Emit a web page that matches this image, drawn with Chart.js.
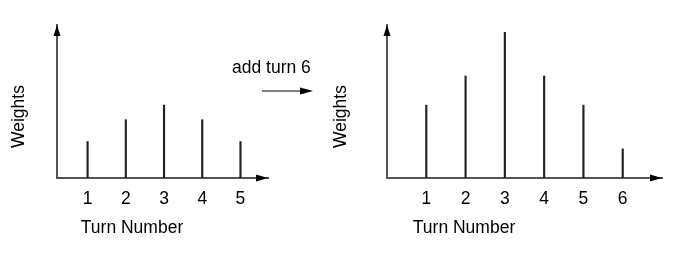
<!DOCTYPE html>
<html>
<head>
<meta charset="utf-8">
<script src="https://cdn.jsdelivr.net/npm/chart.js@4.4.1/dist/chart.umd.min.js"></script>
<style>
  html, body { margin: 0; padding: 0; background: #fff; }
  body { width: 685px; height: 262px; position: relative; overflow: hidden; font-family: "Liberation Sans", Arial, sans-serif; }
  .box { position: absolute; top: 0; height: 262px; }
  #leftBox { left: 0; width: 300px; }
  #rightBox { left: 330px; width: 355px; }
  #addTurn { position: absolute; left: 232px; top: 57px; font-size: 17.5px; color: #000; white-space: nowrap; }
  #midArrow { position: absolute; left: 260px; top: 84px; }
</style>
</head>
<body>
<div class="box" id="leftBox"><canvas id="leftChart"></canvas></div>
<div class="box" id="rightBox"><canvas id="rightChart"></canvas></div>
<div id="addTurn">add turn 6</div>
<svg id="midArrow" width="56" height="14"><line x1="2" y1="7" x2="42" y2="7" stroke="#000" stroke-width="1.2"/><polygon points="40,3.5 53,7 40,10.5" fill="#000"/></svg>
<script>
// data
const turnsBefore = [1, 2, 3, 4, 5];
const weightsBefore = [2.5, 4, 5, 4, 2.5];
const turnsAfter = [1, 2, 3, 4, 5, 6];
const weightsAfter = [5, 7, 10, 7, 5, 2];
const weightMax = 10.5;
const xTitle = 'Turn Number';
const yTitle = 'Weights';

const FONT = '"Liberation Sans", Arial, sans-serif';

// arrow heads on the axes + the two axis titles
const axisArrows = {
  id: 'axisArrows',
  afterDraw(chart, args, opts) {
    const ctx = chart.ctx;
    const a = chart.chartArea;
    ctx.save();
    ctx.fillStyle = '#000';
    // up arrow
    ctx.beginPath();
    ctx.moveTo(a.left, a.top);
    ctx.lineTo(a.left - 3.5, a.top + 11);
    ctx.lineTo(a.left + 3.5, a.top + 11);
    ctx.closePath();
    ctx.fill();
    // right arrow
    ctx.beginPath();
    ctx.moveTo(a.right, a.bottom);
    ctx.lineTo(a.right - 12, a.bottom - 3.5);
    ctx.lineTo(a.right - 12, a.bottom + 3.5);
    ctx.closePath();
    ctx.fill();

    ctx.font = '17.5px ' + FONT;
    ctx.textAlign = 'center';
    ctx.textBaseline = 'middle';
    ctx.fillText(xTitle, opts.xTitleX, opts.xTitleY);
    ctx.translate(opts.yTitleX, opts.yTitleY);
    ctx.rotate(-Math.PI / 2);
    ctx.fillText(yTitle, 0, 0);
    ctx.restore();
  }
};

function makeChart(id, turns, weights, xMin, xMax, padRight, titles) {
  return new Chart(document.getElementById(id), {
    type: 'bar',
    data: {
      datasets: [{
        data: turns.map((t, i) => ({ x: t, y: weights[i] })),
        backgroundColor: '#222',
        barThickness: 1.5
      }]
    },
    options: {
      responsive: true,
      maintainAspectRatio: false,
      animation: false,
      layout: { padding: { top: 25, right: padRight, left: 0, bottom: 0 } },
      plugins: {
        legend: { display: false },
        tooltip: { enabled: false },
        axisArrows: titles
      },
      scales: {
        x: {
          type: 'linear',
          min: xMin,
          max: xMax,
          offset: false,
          grid: { display: false, drawTicks: false, offset: false },
          border: { display: true, color: '#555', width: 2 },
          afterBuildTicks: (scale) => { scale.ticks = turns.map(v => ({ value: v })); },
          ticks: {
            autoSkip: false,
            maxRotation: 0,
            padding: 11,
            color: '#000',
            font: { family: FONT, size: 17.5 }
          },
          afterFit: (scale) => { scale.height = 84; }
        },
        y: {
          min: 0,
          max: weightMax,
          grid: { display: false, drawTicks: false },
          border: { display: true, color: '#555', width: 2 },
          ticks: { display: false },
          afterFit: (scale) => { scale.width = 57; }
        }
      }
    },
    plugins: [axisArrows]
  });
}

makeChart('leftChart', turnsBefore, weightsBefore, 0.2, 5.72, 32,
  { xTitleX: 132, xTitleY: 228, yTitleX: 19.5, yTitleY: 116.5 });
makeChart('rightChart', turnsAfter, weightsAfter, 0, 7, 23,
  { xTitleX: 134, xTitleY: 228, yTitleX: 10.7, yTitleY: 116.5 });
</script>
</body>
</html>
